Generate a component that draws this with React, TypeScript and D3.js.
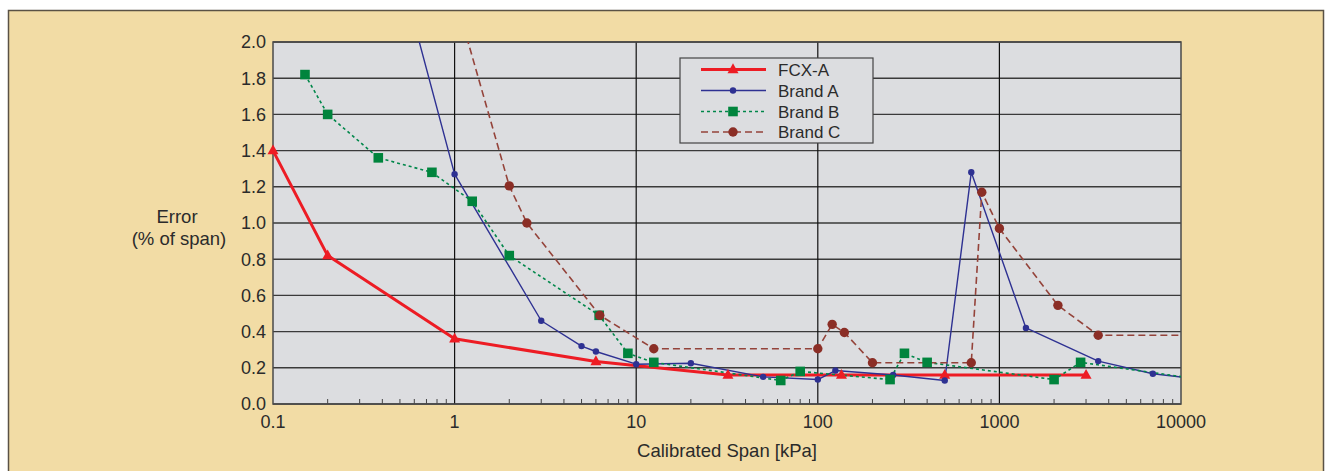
import React from "react";
import * as d3 from "d3";

// ---- data ----
const fcxSpan = [0.1, 0.2, 1, 6, 32, 135, 500, 3000];
const fcxErr = [1.40, 0.82, 0.36, 0.235, 0.16, 0.16, 0.16, 0.16];

const brandASpan = [0.5, 1, 3, 5, 6, 10, 20, 50, 100, 125, 260, 500, 700, 1400, 3500, 7000, 12000];
const brandAErr = [2.4, 1.27, 0.46, 0.32, 0.29, 0.22, 0.225, 0.15, 0.135, 0.185, 0.16, 0.13, 1.28, 0.42, 0.237, 0.167, 0.14];

const brandBSpan = [0.15, 0.2, 0.38, 0.75, 1.25, 2, 6.25, 9, 12.5, 62.5, 80, 250, 300, 400, 2000, 2800, 12000];
const brandBErr = [1.82, 1.6, 1.36, 1.28, 1.12, 0.82, 0.49, 0.28, 0.23, 0.13, 0.18, 0.135, 0.28, 0.23, 0.135, 0.23, 0.14];

const brandCSpan = [1, 2, 2.5, 6.3, 12.5, 100, 120, 140, 200, 700, 800, 1000, 2100, 3500, 12000];
const brandCErr = [2.26, 1.205, 1.0, 0.49, 0.305, 0.305, 0.44, 0.395, 0.228, 0.228, 1.17, 0.97, 0.545, 0.38, 0.38];

const seriesNames = ["FCX-A", "Brand A", "Brand B", "Brand C"];
const yTicks = [0, 0.2, 0.4, 0.6, 0.8, 1.0, 1.2, 1.4, 1.6, 1.8, 2.0];
const xTicks = [0.1, 1, 10, 100, 1000, 10000];
const xTickLabels = ["0.1", "1", "10", "100", "1000", "10000"];

const FONT = "'Liberation Sans', Arial, Helvetica, sans-serif";
const TEXT = "#2b2b2b";

type Pt = [number, number];

export default function App() {
  const W = 1326, H = 471;
  const left = 273, right = 1181, top = 42, bottom = 404;
  const x = d3.scaleLog().domain([0.1, 10000]).range([left, right]);
  const y = d3.scaleLinear().domain([0, 2]).range([bottom, top]);

  const zip = (a: number[], b: number[]): Pt[] => a.map((v, i) => [v, b[i]] as Pt);
  const line = d3.line<Pt>().x((d) => x(d[0])).y((d) => y(d[1]));

  const series = [
    { name: seriesNames[0], data: zip(fcxSpan, fcxErr), color: "#ed1c24", width: 3, dash: "", marker: "tri", mcolor: "#ed1c24" },
    { name: seriesNames[1], data: zip(brandASpan, brandAErr), color: "#2e3192", width: 1.4, dash: "", marker: "dot", mcolor: "#2e3192" },
    { name: seriesNames[2], data: zip(brandBSpan, brandBErr), color: "#00874a", width: 1.6, dash: "3,3", marker: "sq", mcolor: "#00843d" },
    { name: seriesNames[3], data: zip(brandCSpan, brandCErr), color: "#94433a", width: 1.6, dash: "7,4", marker: "circ", mcolor: "#8b2e26" },
  ];

  const inDomain = (d: Pt) => d[0] >= 0.1 && d[0] <= 10000 && d[1] >= 0 && d[1] <= 2;

  const drawMarker = (kind: string, cx: number, cy: number, color: string, key: string) => {
    if (kind === "tri") {
      const s = 11;
      const h = s * 0.9;
      return (
        <path key={key} d={`M${cx},${cy - h * 0.62} L${cx + s / 2},${cy + h * 0.38} L${cx - s / 2},${cy + h * 0.38} Z`} fill={color} />
      );
    }
    if (kind === "dot") return <circle key={key} cx={cx} cy={cy} r={3.2} fill={color} />;
    if (kind === "sq") return <rect key={key} x={cx - 4.8} y={cy - 4.8} width={9.6} height={9.6} fill={color} />;
    return <circle key={key} cx={cx} cy={cy} r={4.7} fill={color} />;
  };

  const minorTicks: number[] = [];
  for (let dec = 0.1; dec < 10000; dec *= 10) {
    for (let k = 2; k <= 9; k++) minorTicks.push(dec * k);
  }

  const legX = 680, legY = 58, legW = 193, legH = 85;
  const legRows = [69.5, 90.5, 111.5, 132];

  return (
    <svg width={W} height={H} style={{ position: "absolute", left: 0, top: 0 }} fontFamily={FONT}>
      <rect x={8.5} y={10.5} width={1315} height={480} fill="#f2dca5" stroke="#5a5245" strokeWidth={1.5} />
      <defs>
        <clipPath id="plotClip">
          <rect x={left} y={top} width={right - left} height={bottom - top} />
        </clipPath>
      </defs>
      <rect x={left} y={top} width={right - left} height={bottom - top} fill="#dcdde0" />
      {/* horizontal grid */}
      {yTicks.map((t) => (
        <line key={"hy" + t} x1={left} x2={right} y1={y(t)} y2={y(t)} stroke="#3a3a3a" strokeWidth={1.4} />
      ))}
      {/* vertical grid */}
      {xTicks.slice(1, -1).map((t) => (
        <line key={"vx" + t} x1={x(t)} x2={x(t)} y1={top} y2={bottom} stroke="#111" strokeWidth={1.2} />
      ))}
      {/* minor ticks */}
      {minorTicks.map((t, i) => (
        <line key={"mt" + i} x1={x(t)} x2={x(t)} y1={bottom} y2={bottom - 5} stroke="#444" strokeWidth={1} />
      ))}
      <rect x={left} y={top} width={right - left} height={bottom - top} fill="none" stroke="#4a4a4a" strokeWidth={1.5} />

      {/* series */}
      <g clipPath="url(#plotClip)">
        {series.map((s) => (
          <path key={s.name} d={line(s.data) || ""} fill="none" stroke={s.color} strokeWidth={s.width}
            strokeDasharray={s.dash || undefined} strokeLinejoin="round" />
        ))}
      </g>
      {series.map((s) =>
        s.data.filter(inDomain).map((d, i) => drawMarker(s.marker, x(d[0]), y(d[1]), s.mcolor, s.name + i))
      )}

      {/* y tick labels */}
      {yTicks.map((t) => (
        <text key={"yl" + t} x={266} y={y(t)} dy="0.36em" textAnchor="end" fontSize={18} fill={TEXT}>
          {t.toFixed(1)}
        </text>
      ))}
      {/* x tick labels */}
      {xTicks.map((t, i) => (
        <text key={"xl" + t} x={x(t)} y={427.5} textAnchor="middle" fontSize={18} fill={TEXT}>
          {xTickLabels[i]}
        </text>
      ))}
      <text x={727} y={456.5} textAnchor="middle" fontSize={18.5} fill={TEXT}>Calibrated Span [kPa]</text>
      <text x={177} y={222.5} textAnchor="middle" fontSize={18.5} fill={TEXT}>Error</text>
      <text x={179} y={245} textAnchor="middle" fontSize={18.5} fill={TEXT}>(% of span)</text>

      {/* legend */}
      <rect x={legX} y={legY} width={legW} height={legH} fill="#dcdde0" stroke="#444" strokeWidth={1.2} />
      {series.map((s, i) => (
        <g key={"leg" + s.name}>
          <line x1={701} x2={766} y1={legRows[i]} y2={legRows[i]} stroke={s.color} strokeWidth={s.width}
            strokeDasharray={s.dash || undefined} />
          {drawMarker(s.marker, 733, legRows[i], s.mcolor, "lm" + i)}
          <text x={778} y={legRows[i]} dy="0.36em" fontSize={17} fill={TEXT}>{s.name}</text>
        </g>
      ))}
    </svg>
  );
}
